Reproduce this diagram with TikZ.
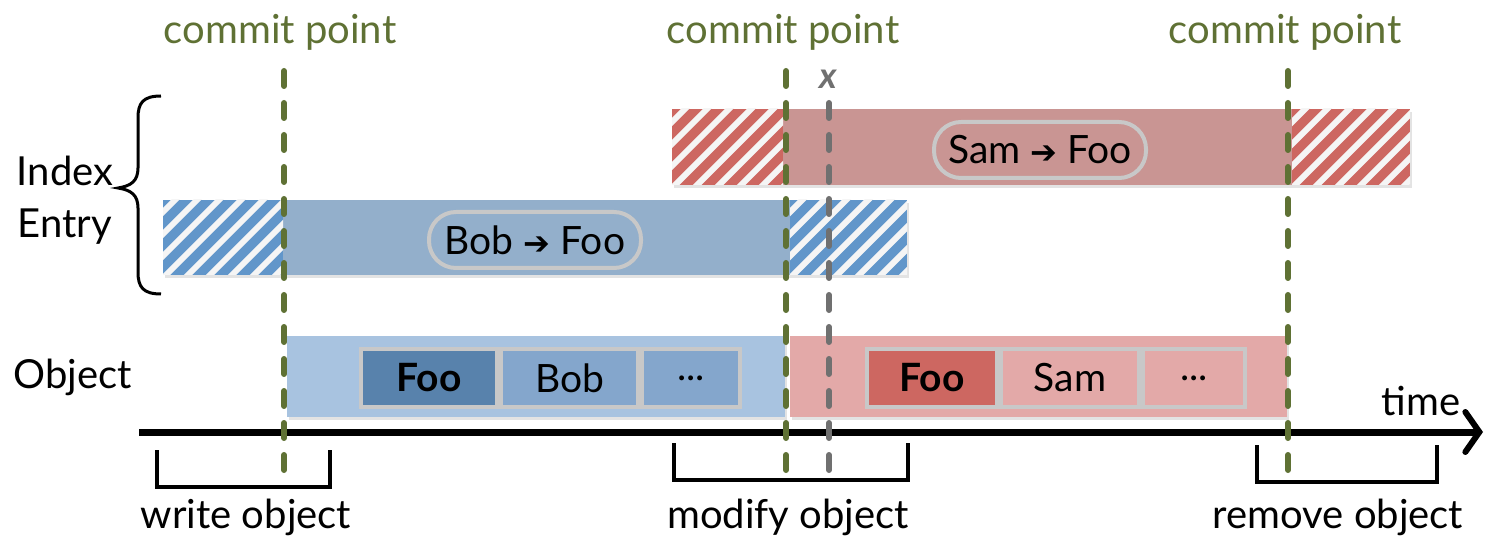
\documentclass[tikz,border=0pt]{standalone}
\usepackage{fontspec}
\setmainfont{Lato}
\newfontfamily\symfont{DejaVu Sans}
\usetikzlibrary{arrows.meta,shadows}

\definecolor{commitgreen}{HTML}{5F7134}
\definecolor{xgray}{HTML}{707070}
\definecolor{pillgray}{HTML}{C8C8C8}
\definecolor{idxblue}{HTML}{93AFCB}
\definecolor{hatchblue}{HTML}{6196CA}
\definecolor{objblue}{HTML}{A8C3E0}
\definecolor{keyblue}{HTML}{5882AC}
\definecolor{valblue}{HTML}{84A6CC}
\definecolor{idxred}{HTML}{C99593}
\definecolor{hatchred}{HTML}{CD6761}
\definecolor{objred}{HTML}{E3A9A8}
\definecolor{keyred}{HTML}{CD6761}
\definecolor{valred}{HTML}{E3A9A8}

% striped (not yet / no longer valid) part of an index bar
\newcommand{\stripebox}[5]{%
  \fill[#5] (#1,#2) rectangle (#3,#4);
  \begin{scope}
    \clip (#1,#2) rectangle (#3,#4);
    \foreach \k in {0,...,12}
      \draw[white!96!black, line width=6pt] (#1-90+22*\k,#4+5) -- ++(90,-90);
  \end{scope}}

\newcommand{\maparrow}{{\symfont\bfseries\fontsize{32}{32}\selectfont\char"2794}}

\tikzset{
  lbl/.style={font=\fontsize{40}{44}\selectfont, inner sep=0pt},
  commitlbl/.style={lbl, text=commitgreen},
  commitline/.style={draw=commitgreen, line width=6pt, line cap=round, dash pattern=on 15pt off 17pt},
  xline/.style={draw=xgray, line width=6pt, line cap=round, dash pattern=on 15pt off 17pt},
  barshadow/.style={drop shadow={opacity=0.22, shadow xshift=2pt, shadow yshift=-3pt}},
  pill/.style={draw=pillgray, line width=4pt, rounded corners=27pt, minimum width=212pt,
    minimum height=56pt, inner sep=0pt, font=\fontsize{39}{40}\selectfont},
  cell/.style={draw=pillgray, line width=4pt, minimum height=58pt, inner sep=0pt,
    anchor=west, font=\fontsize{39}{40}\selectfont},
  bracket/.style={draw=black, line width=4.5pt, line cap=rect},
  axis/.style={draw=black, line width=7pt,
    -{Straight Barb[length=14pt, width=40pt, line width=6pt, line cap=round]}},
}

\begin{document}
\begin{tikzpicture}[x=1pt, y=-1pt]
\useasboundingbox (0,0) rectangle (1488,537);

% ---- index entries ----
\path[fill=idxred, barshadow] (672,109) rectangle (1410,185);
\stripebox{672}{109}{783}{185}{hatchred}
\stripebox{1292}{109}{1410}{185}{hatchred}
\node[pill] (sampill) at (1040,150) {Sam \maparrow\ Foo};

\path[fill=idxblue, barshadow] (163,200) rectangle (907,275);
\stripebox{163}{200}{283}{275}{hatchblue}
\stripebox{790}{200}{907}{275}{hatchblue}
\node[pill] (bobpill) at (535,240) {Bob \maparrow\ Foo};

% ---- objects ----
\path[fill=objblue, barshadow] (287,336) rectangle (785,417);
\node[cell, fill=keyblue, minimum width=136pt, font=\fontsize{39}{40}\selectfont\bfseries] (bkey) at (359,378) {Foo};
\node[cell, fill=valblue, minimum width=137pt] (bval) at (bkey.east) {Bob};
\node[cell, fill=valblue, minimum width=98pt] (bmore) at (bval.east) {...};

\path[fill=objred, barshadow] (790,336) rectangle (1287,417);
\node[cell, fill=keyred, minimum width=130pt, font=\fontsize{39}{40}\selectfont\bfseries] (rkey) at (865,378) {Foo};
\node[cell, fill=valred, minimum width=138pt] (rval) at (rkey.east) {Sam};
\node[cell, fill=valred, minimum width=102pt] (rmore) at (rval.east) {...};

% ---- time axis ----
\coordinate (t0) at (139,432);
\coordinate (t1) at (1483,432);
\draw[axis] (t0) -- (t1);
\node[lbl, anchor=south] (timelbl) at (1421,416) {time};

% ---- commit points ----
\node[commitlbl] (c1) at (280,32) {commit point};
\node[commitlbl] (c2) at (783,32) {commit point};
\node[commitlbl] (c3) at (1285,32) {commit point};
\coordinate (c1a) at (284,71);  \coordinate (c1b) at (284,470);
\coordinate (c2a) at (786,71);  \coordinate (c2b) at (786,470);
\coordinate (c3a) at (1288,71); \coordinate (c3b) at (1288,470);
\draw[commitline] (c1a) -- (c1b);
\draw[commitline] (c2a) -- (c2b);
\draw[commitline] (c3a) -- (c3b);

\node[font=\fontsize{36}{36}\selectfont\itshape\bfseries, text=xgray, inner sep=0pt] (xlbl) at (828,79) {x};
\coordinate (xa) at (829,103); \coordinate (xb) at (829,470);
\draw[xline] (xa) -- (xb);

% ---- row labels ----
\draw[line width=3pt] (161,96) .. controls (143,96) and (138,103) .. (138,118)
  -- (138,168) .. controls (138,181) and (131,186) .. (118,188)
  .. controls (131,190) and (138,195) .. (138,208)
  -- (138,272) .. controls (138,287) and (143,294) .. (161,294);
\node[lbl, align=center] (idxlbl) at (65,200) {Index\\[8pt]Entry};
\node[lbl] (objlbl) at (73,377) {Object};

% ---- operations ----
\draw[bracket] (157,452) -- (157,487) -- (330,487) -- (330,452);
\node[lbl] (wlbl) at (246,517) {write object};
\draw[bracket] (674,445) -- (674,480) -- (908,480) -- (908,445);
\node[lbl] (mlbl) at (788,517) {modify object};
\draw[bracket] (1257,447) -- (1257,482) -- (1437,482) -- (1437,447);
\node[lbl] (rlbl) at (1338,517) {remove object};
\end{tikzpicture}
\end{document}
